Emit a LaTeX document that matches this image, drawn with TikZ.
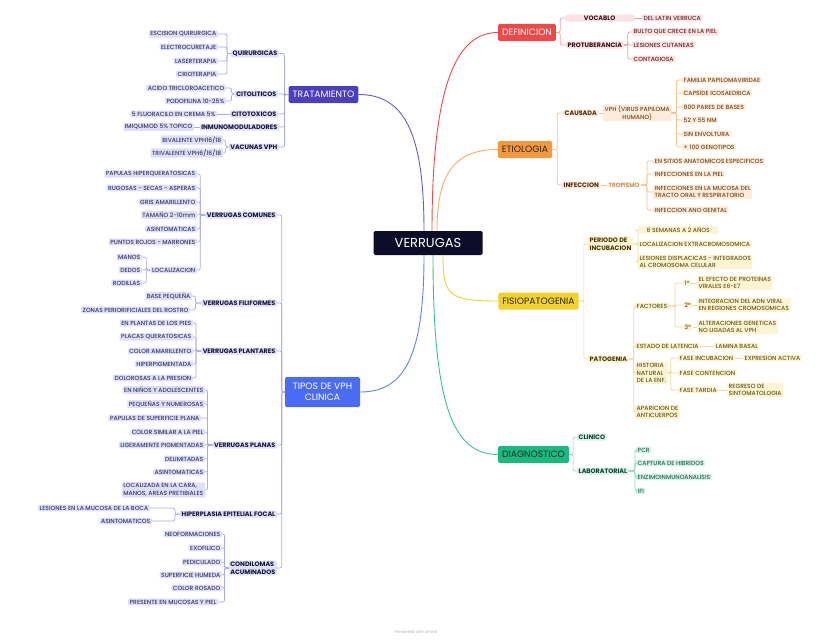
\documentclass[tikz,border=0pt]{standalone}
\usepackage{fontspec}
\setmainfont{Poppins}
\newfontfamily\leaffam{Poppins Medium}
\usepackage{xcolor}
\usepackage{tikz}
\definecolor{rootColor}{RGB}{12,12,40}
\definecolor{tratColor}{RGB}{75,63,192}
\definecolor{tiposColor}{RGB}{74,108,245}
\definecolor{defiColor}{RGB}{240,72,72}
\definecolor{etioColor}{RGB}{245,154,60}
\definecolor{fisioColor}{RGB}{242,210,42}
\definecolor{diagColor}{RGB}{25,185,128}
\definecolor{lavBg}{RGB}{223,224,247}
\definecolor{lavTx}{RGB}{52,54,112}
\definecolor{lavSub}{RGB}{18,18,64}
\definecolor{lavLine}{RGB}{168,170,230}
\definecolor{defBg}{RGB}{253,226,226}
\definecolor{defTx}{RGB}{100,36,36}
\definecolor{defSub}{RGB}{56,16,16}
\definecolor{defLine}{RGB}{240,160,160}
\definecolor{etiBg}{RGB}{253,236,218}
\definecolor{etiTx}{RGB}{116,70,28}
\definecolor{etiSub}{RGB}{80,42,10}
\definecolor{etiLine}{RGB}{245,194,140}
\definecolor{fisBg}{RGB}{253,244,212}
\definecolor{fisTx}{RGB}{104,86,18}
\definecolor{fisSub}{RGB}{70,54,4}
\definecolor{fisLine}{RGB}{238,220,146}
\definecolor{diaBg}{RGB}{214,242,230}
\definecolor{diaTx}{RGB}{40,104,84}
\definecolor{diaSub}{RGB}{12,68,50}
\definecolor{diaLine}{RGB}{140,214,184}
\newcommand{\leaffont}{\leaffam\fontsize{6}{7.8}\selectfont}
\newcommand{\subfont}{\fontsize{6.4}{7.8}\selectfont\bfseries}

\begin{document}
\begin{tikzpicture}[
    x=1pt, y=-1pt,
    topic/.style={rectangle, rounded corners=1.5pt, font=\fontsize{9.2}{11}\selectfont, minimum height=17pt, inner xsep=4pt, align=center},
    leaf/.style={rectangle, rounded corners=1pt, inner xsep=1.5pt, inner ysep=1.2pt, font=\leaffont},
    sub/.style={leaf, font=\subfont},
    lleaf/.style={leaf, anchor=east, fill=lavBg, text=lavTx},
    lsub/.style={sub, anchor=east, fill=lavBg, text=lavSub},
    defleaf/.style={leaf, anchor=west, fill=defBg, text=defTx},
    defsub/.style={sub, anchor=west, fill=defBg, text=defSub},
    etileaf/.style={leaf, anchor=west, fill=etiBg, text=etiTx},
    etisub/.style={sub, anchor=west, fill=etiBg, text=etiSub},
    fisleaf/.style={leaf, anchor=west, fill=fisBg, text=fisTx},
    fissub/.style={sub, anchor=west, fill=fisBg, text=fisSub},
    dialeaf/.style={leaf, anchor=west, fill=diaBg, text=diaTx},
    diasub/.style={sub, anchor=west, fill=diaBg, text=diaSub},
    tie/.style={line width=0.7pt, rounded corners=2pt},
    branch/.style={line width=0.9pt}
]
    \fill[white] (0,0) rectangle (833,640);
    \useasboundingbox (0,0) rectangle (833,640);

    % Central topic
    \node[topic, fill=rootColor, text=white, minimum width=109pt, minimum height=24pt, font=\fontsize{13}{15}\selectfont] (root) at (428,243) {VERRUGAS};

    % Main topics
    \node[topic, fill=tratColor, text=white] (trat) at (323.5,94.5) {TRATAMIENTO};
    \node[topic, fill=tiposColor, text=white, minimum width=75pt, minimum height=30pt] (tipos) at (322.5,392) {TIPOS DE VPH\\CLINICA};
    \node[topic, fill=defiColor, text=white] (defi) at (527,32.5) {DEFINICION};
    \node[topic, fill=etioColor, text=black!85] (etio) at (525,149.5) {ETIOLOGIA};
    \node[topic, fill=fisioColor, text=black!85] (fisio) at (538.5,301) {FISIOPATOGENIA};
    \node[topic, fill=diagColor, text=black!85] (diag) at (533.5,454.5) {DIAGNOSTICO};

    \draw[branch, draw=tratColor!85] ([xshift=-4pt]root.north) .. controls +(0,-100) and +(45,0) .. (trat.east);
    \draw[branch, draw=tiposColor!85] ([xshift=-4pt]root.south) .. controls +(0,100) and +(45,0) .. (tipos.east);
    \draw[branch, draw=defiColor] ([xshift=4pt]root.north) .. controls +(0,-150) and +(-40,0) .. (defi.west);
    \draw[branch, draw=etioColor!80] ([xshift=9pt]root.north) .. controls +(0,-55) and +(-45,0) .. (etio.west);
    \draw[branch, draw=fisioColor] ([xshift=15pt]root.south) .. controls +(0,40) and +(-50,0) .. (fisio.west);
    \draw[branch, draw=diagColor!85] ([xshift=5pt]root.south) .. controls +(0,150) and +(-45,0) .. (diag.west);

    % TRATAMIENTO
    \node[lsub] (quir) at (279,53.5) {QUIRURGICAS};
    \node[lsub] (citol) at (278,94) {CITOLITICOS};
    \node[lsub] (citot) at (278,114) {CITOTOXICOS};
    \node[lsub] (inmu) at (279,127) {INMUNOMODULADORES};
    \node[lsub] (vacu) at (279,147) {VACUNAS VPH};
    \node[lleaf] (esc) at (218,34) {ESCISION QUIRURGICA};
    \node[lleaf] (elec) at (218,47) {ELECTROCURETAJE};
    \node[lleaf] (laser) at (218,61) {LASERTERAPIA};
    \node[lleaf] (crio) at (218,74) {CRIOTERAPIA};
    \node[lleaf] (acido) at (226,88) {ACIDO TRICLOROACETICO};
    \node[lleaf] (podo) at (226,101) {PODOFILINA 10-25\%};
    \node[lleaf] (fluo) at (217,114) {5 FLUORACILO EN CREMA 5\%};
    \node[lleaf] (imiq) at (194,127) {IMIQUIMOD 5\% TOPICO};
    \node[lleaf] (biva) at (223,140) {BIVALENTE VPH16/18};
    \node[lleaf] (triva) at (223,153) {TRIVALENTE VPH6/16/18};

    \foreach \c in {quir,citol,citot,inmu,vacu}
        \draw[tie, draw=lavLine] (trat.west) -- ++(-4,0) |- (\c.east);
    \foreach \c in {esc,elec,laser,crio}
        \draw[tie, draw=lavLine] (quir.west) -- ++(-4,0) |- (\c.east);
    \foreach \c in {acido,podo}
        \draw[tie, draw=lavLine] (citol.west) -- ++(-3,0) |- (\c.east);
    \foreach \c in {biva,triva}
        \draw[tie, draw=lavLine] (vacu.west) -- ++(-3,0) |- (\c.east);
    \draw[tie, draw=lavLine] (citot.west) -- (fluo.east);
    \draw[tie, draw=lavLine] (inmu.west) -- (imiq.east);

    % TIPOS DE VPH CLINICA
    \node[lsub] (comu) at (277,215) {VERRUGAS COMUNES};
    \node[lsub] (fili) at (277,303) {VERRUGAS FILIFORMES};
    \node[lsub] (plant) at (277,351) {VERRUGAS PLANTARES};
    \node[lsub] (plan) at (277,445) {VERRUGAS PLANAS};
    \node[lsub] (hiper) at (277,514) {HIPERPLASIA EPITELIAL FOCAL};
    \node[lsub, align=left] (cond) at (277,568) {CONDILOMAS\\ACUMINADOS};

    \node[lleaf] (papu) at (197,174) {PAPULAS HIPERQUERATOSICAS};
    \node[lleaf] (rugo) at (197,188) {RUGOSAS - SECAS - ASPERAS};
    \node[lleaf] (gris) at (197,202) {GRIS AMARILLENTO};
    \node[lleaf] (tama) at (197,215) {TAMAÑO 2-10mm};
    \node[lleaf] (asin) at (197,229) {ASINTOMATICAS};
    \node[lleaf] (punt) at (197,242) {PUNTOS ROJOS - MARRONES};
    \node[lleaf] (loca) at (197,270) {LOCALIZACION};
    \node[lleaf] (manos) at (142,257) {MANOS};
    \node[lleaf] (dedos) at (142,270) {DEDOS};
    \node[lleaf] (rodi) at (142,283) {RODILLAS};

    \node[lleaf] (base) at (192,296) {BASE PEQUEÑA};
    \node[lleaf] (zona) at (190,310) {ZONAS PERIORIFICIALES DEL ROSTRO};

    \node[lleaf] (plantas) at (193,323) {EN PLANTAS DE LOS PIES};
    \node[lleaf] (placas) at (193,337) {PLACAS QUERATOSICAS};
    \node[lleaf] (amar) at (193,351) {COLOR AMARILLENTO};
    \node[lleaf] (hpig) at (193,364) {HIPERPIGMENTADA};
    \node[lleaf] (dolo) at (193,378) {DOLOROSAS A LA PRESION};

    \node[lleaf] (ninos) at (205,390) {EN NIÑOS Y ADOLESCENTES};
    \node[lleaf] (pequ) at (205,404) {PEQUEÑAS Y NUMEROSAS};
    \node[lleaf] (papsup) at (201,418) {PAPULAS DE SUPERFICIE PLANA};
    \node[lleaf] (colsim) at (205,432) {COLOR SIMILAR A LA PIEL};
    \node[lleaf] (ligera) at (205,445) {LIGERAMENTE PIGMENTADAS};
    \node[lleaf] (delim) at (205,459) {DELIMITADAS};
    \node[lleaf] (asinp) at (205,472) {ASINTOMATICAS};
    \node[lleaf, align=left] (locz) at (205,490) {LOCALIZADA EN LA CARA,\\MANOS, AREAS PRETIBIALES};

    \node[lleaf] (lesmuc) at (150,508) {LESIONES EN LA MUCOSA DE LA BOCA};
    \node[lleaf] (asinto) at (152,521) {ASINTOMATICOS};

    \node[lleaf] (neo) at (222,534) {NEOFORMACIONES};
    \node[lleaf] (exo) at (222,548) {EXOFILICO};
    \node[lleaf] (pedi) at (222,562) {PEDICULADO};
    \node[lleaf] (supe) at (222,575) {SUPERFICIE HUMEDA};
    \node[lleaf] (colro) at (222,588) {COLOR ROSADO};
    \node[lleaf] (pres) at (218,602) {PRESENTE EN MUCOSAS Y PIEL};

    \foreach \c in {comu,fili,plant,plan,hiper,cond}
        \draw[tie, draw=lavLine] (tipos.west) -- ++(-3,0) |- (\c.east);
    \foreach \c in {papu,rugo,gris,tama,asin,punt,loca}
        \draw[tie, draw=lavLine] (comu.west) -- ++(-5,0) |- (\c.east);
    \foreach \c in {manos,dedos,rodi}
        \draw[tie, draw=lavLine] (loca.west) -- ++(-4,0) |- (\c.east);
    \foreach \c in {base,zona}
        \draw[tie, draw=lavLine] (fili.west) -- ++(-6,0) |- (\c.east);
    \foreach \c in {plantas,placas,amar,hpig,dolo}
        \draw[tie, draw=lavLine] (plant.west) -- ++(-5,0) |- (\c.east);
    \foreach \c in {ninos,pequ,papsup,colsim,ligera,delim,asinp,locz}
        \draw[tie, draw=lavLine] (plan.west) -- ++(-5,0) |- (\c.east);
    \foreach \c in {lesmuc,asinto}
        \draw[tie, draw=lavLine] (hiper.west) -- ++(-5,0) |- (\c.east);
    \foreach \c in {neo,exo,pedi,supe,colro,pres}
        \draw[tie, draw=lavLine] (cond.west) -- ++(-4,0) |- (\c.east);

    % DEFINICION
    \node[defsub, minimum width=69pt] (voca) at (565,18) {VOCABLO};
    \node[defsub] (prot) at (566,45) {PROTUBERANCIA};
    \node[defleaf] (latin) at (642,18) {DEL LATIN VERRUCA};
    \node[defleaf] (bulto) at (632,32) {BULTO QUE CRECE EN LA PIEL};
    \node[defleaf] (lesi) at (632,45) {LESIONES CUTANEAS};
    \node[defleaf] (conta) at (632,59) {CONTAGIOSA};

    \foreach \c in {voca,prot}
        \draw[tie, draw=defLine] (defi.east) -- ++(4,0) |- (\c.west);
    \draw[tie, draw=defLine] (voca.east) -- (latin.west);
    \foreach \c in {bulto,lesi,conta}
        \draw[tie, draw=defLine] (prot.east) -- ++(4,0) |- (\c.west);

    % ETIOLOGIA
    \node[etisub] (causa) at (563,113) {CAUSADA};
    \node[etisub] (infe) at (562,185) {INFECCION};
    \node[etileaf, align=center] (vph) at (603,113) {VPH (VIRUS PAPILOMA\\HUMANO)};
    \node[etileaf] (fam) at (682,80) {FAMILIA PAPILOMAVIRIDAE};
    \node[etileaf] (caps) at (682,93) {CAPSIDE ICOSAEDRICA};
    \node[etileaf] (pares) at (682,107) {800 PARES DE BASES};
    \node[etileaf] (nm) at (682,120) {52 Y 55 NM};
    \node[etileaf] (sinenv) at (682,134) {SIN ENVOLTURA};
    \node[etileaf] (geno) at (682,147) {+ 100 GENOTIPOS};
    \node[etileaf, fill=etiBg!50, text=etioColor!75!black] (trop) at (607,185) {TROPISMO};
    \node[etileaf] (sitios) at (653,161) {EN SITIOS ANATOMICOS ESPECIFICOS};
    \node[etileaf] (infpiel) at (653,174) {INFECCIONES EN LA PIEL};
    \node[etileaf, align=left] (infmuc) at (653,192) {INFECCIONES EN LA MUCOSA DEL\\TRACTO ORAL Y RESPIRATORIO};
    \node[etileaf] (anog) at (653,210) {INFECCION ANO GENITAL};

    \foreach \c in {causa,infe}
        \draw[tie, draw=etiLine] (etio.east) -- ++(5,0) |- (\c.west);
    \draw[tie, draw=etiLine] (causa.east) -- (vph.west);
    \draw[tie, draw=etiLine] (infe.east) -- (trop.west);
    \foreach \c in {fam,caps,pares,nm,sinenv,geno}
        \draw[tie, draw=etiLine] (vph.east) -- ++(5,0) |- (\c.west);
    \foreach \c in {sitios,infpiel,infmuc,anog}
        \draw[tie, draw=etiLine] (trop.east) -- ++(6,0) |- (\c.west);

    % FISIOPATOGENIA
    \node[fissub, align=left] (peri) at (588,244) {PERIODO DE\\INCUBACION};
    \node[fissub] (pato) at (588,359) {PATOGENIA};
    \node[fisleaf, minimum width=80pt] (sem) at (638,230) {6 SEMANAS A 2 AÑOS};
    \node[fisleaf] (extra) at (638,244) {LOCALIZACION EXTRACROMOSOMICA};
    \node[fisleaf, align=left] (displ) at (638,262) {LESIONES DISPLACICAS - INTEGRADOS\\AL CROMOSOMA CELULAR};
    \node[fisleaf] (fact) at (635,306) {FACTORES};
    \node[fisleaf] (late) at (635,346) {ESTADO DE LATENCIA};
    \node[fisleaf, align=left] (hist) at (635,373) {HISTORIA\\NATURAL\\DE LA ENF.};
    \node[fisleaf, align=left] (apar) at (635,412) {APARICION DE\\ANTICUERPOS};
    \node[fisleaf] (p1) at (683,283) {1°};
    \node[fisleaf] (p2) at (683,305) {2°};
    \node[fisleaf] (p3) at (683,327) {3°};
    \node[fisleaf, align=left] (efec) at (697,283) {EL EFECTO DE PROTEINAS\\VIRALES E6-E7};
    \node[fisleaf, align=left] (integ) at (697,305) {INTEGRACION DEL ADN VIRAL\\EN REGIONES CROMOSOMICAS};
    \node[fisleaf, align=left] (alter) at (697,327) {ALTERACIONES GENETICAS\\NO LIGADAS AL VPH};
    \node[fisleaf] (lamina) at (714,346) {LAMINA BASAL};
    \node[fisleaf] (fincu) at (678,358) {FASE INCUBACION};
    \node[fisleaf] (fcont) at (678,373) {FASE CONTENCION};
    \node[fisleaf] (ftard) at (678,390) {FASE TARDIA};
    \node[fisleaf] (expr) at (743,358) {EXPRESION ACTIVA};
    \node[fisleaf, align=left] (regr) at (727,390) {REGRESO DE\\SINTOMATOLOGIA};

    \foreach \c in {peri,pato}
        \draw[tie, draw=fisLine] (fisio.east) -- ++(5,0) |- (\c.west);
    \foreach \c in {sem,extra,displ}
        \draw[tie, draw=fisLine] (peri.east) -- ++(5,0) |- (\c.west);
    \foreach \c in {fact,late,hist,apar}
        \draw[tie, draw=fisLine] (pato.east) -- ++(5,0) |- (\c.west);
    \foreach \c in {p1,p2,p3}
        \draw[tie, draw=fisLine] (fact.east) -- ++(6,0) |- (\c.west);
    \draw[tie, draw=fisLine] (p1.east) -- (efec.west);
    \draw[tie, draw=fisLine] (p2.east) -- (integ.west);
    \draw[tie, draw=fisLine] (p3.east) -- (alter.west);
    \draw[tie, draw=fisLine] (late.east) -- (lamina.west);
    \foreach \c in {fincu,fcont,ftard}
        \draw[tie, draw=fisLine] (hist.east) -- ++(3,0) |- (\c.west);
    \draw[tie, draw=fisLine] (fincu.east) -- (expr.west);
    \draw[tie, draw=fisLine] (ftard.east) -- (regr.west);

    % DIAGNOSTICO
    \node[diasub] (clin) at (577,437) {CLINICO};
    \node[diasub] (labo) at (577,471) {LABORATORIAL};
    \node[dialeaf] (pcr) at (636,450) {PCR};
    \node[dialeaf] (capt) at (636,463) {CAPTURA DE HIBRIDOS};
    \node[dialeaf] (enzi) at (636,477) {ENZIMOINMUNOANALISIS};
    \node[dialeaf] (ifi) at (636,491) {IFI};

    \foreach \c in {clin,labo}
        \draw[tie, draw=diaLine] (diag.east) -- ++(4,0) |- (\c.west);
    \foreach \c in {pcr,capt,enzi,ifi}
        \draw[tie, draw=diaLine] (labo.east) -- ++(6,0) |- (\c.west);

    \node[font=\fontsize{4}{5}\selectfont, text=black!30] (foot) at (416,632) {Presented with xmind};
\end{tikzpicture}
\end{document}
